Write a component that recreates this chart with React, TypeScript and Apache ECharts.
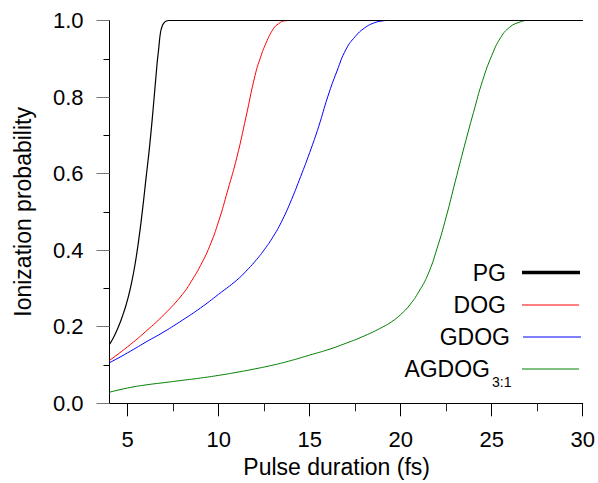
import React, { useEffect, useRef } from "react";
import * as echarts from "echarts";

const SERIES_NAMES = ["PG", "DOG", "GDOG", "AGDOG"];
const SERIES_SUB = ["", "", "", "3:1"];
const SERIES_COLORS = ["#000000", "#ff0000", "#0000ff", "#008000"];

const PG_X = [4.0, 4.2, 4.4, 4.6, 4.8, 5.0, 5.2, 5.4, 5.6, 5.8, 6.0, 6.2, 6.4, 6.6, 6.7, 6.8, 6.9, 7.0, 7.1, 7.25, 30];
const PG_Y = [0.154, 0.17, 0.19, 0.213, 0.24, 0.272, 0.312, 0.362, 0.425, 0.5, 0.585, 0.67, 0.77, 0.88, 0.925, 0.968, 0.986, 0.994, 0.998, 1.0, 1.0];

const DOG_X = [4, 5, 6, 7, 8, 8.5, 9, 9.5, 10, 10.5, 11, 11.5, 12, 12.3, 12.6, 13.0, 13.3, 13.6, 14, 30];
const DOG_Y = [0.112, 0.148, 0.188, 0.232, 0.284, 0.319, 0.36, 0.41, 0.476, 0.557, 0.643, 0.748, 0.857, 0.904, 0.941, 0.978, 0.992, 0.999, 1.0, 1.0];

const GDOG_X = [4, 5, 6, 7, 8, 9, 10, 11, 11.5, 12, 12.5, 13, 13.5, 14, 14.5, 15, 15.5, 16, 16.5, 17, 17.5, 18, 18.5, 19, 19.3, 30];
const GDOG_Y = [0.106, 0.132, 0.16, 0.187, 0.217, 0.249, 0.285, 0.322, 0.345, 0.371, 0.401, 0.436, 0.479, 0.532, 0.592, 0.655, 0.724, 0.802, 0.868, 0.925, 0.958, 0.98, 0.993, 0.999, 1.0, 1.0];

const AG_X = [4, 5, 6, 7, 8, 9, 10, 11, 12, 13, 14, 15, 16, 17, 18, 19, 19.5, 20, 20.5, 21, 21.5, 22, 22.5, 23, 23.5, 24, 24.5, 25, 25.5, 26, 26.5, 27, 30];
const AG_Y = [0.029, 0.04, 0.048, 0.054, 0.06, 0.066, 0.073, 0.081, 0.09, 0.1, 0.112, 0.126, 0.14, 0.157, 0.176, 0.199, 0.213, 0.232, 0.257, 0.292, 0.337, 0.405, 0.487, 0.58, 0.672, 0.76, 0.843, 0.908, 0.956, 0.983, 0.995, 1.0, 1.0];

const X_MAJOR_TICKS = [5, 10, 15, 20, 25, 30];
const X_MINOR_TICKS = [7.5, 12.5, 17.5, 22.5, 27.5];

const ALL_X = [PG_X, DOG_X, GDOG_X, AG_X];
const ALL_Y = [PG_Y, DOG_Y, GDOG_Y, AG_Y];

const FONT = "'Liberation Sans', Arial, Helvetica, sans-serif";

export default function App() {
  const ref = useRef<HTMLDivElement>(null);

  useEffect(() => {
    if (!ref.current) return;
    const chart = echarts.init(ref.current, undefined, { renderer: "svg" });

    const series = SERIES_NAMES.map((name, i) => ({
      name,
      type: "line",
      xAxisIndex: 0,
      yAxisIndex: 0,
      data: ALL_X[i].map((x, j) => [x, ALL_Y[i][j]]),
      showSymbol: false,
      symbol: "none",
      smooth: 0.5,
      clip: false,
      lineStyle: { color: SERIES_COLORS[i], width: i === 0 ? 1.2 : 1 },
      itemStyle: { color: SERIES_COLORS[i] },
      z: 10 - i,
    }));

    // legend drawn as graphic
    const legendRightText = [506, 506, 510, 490];
    const legendCenterY = [273, 305, 337, 368.5];
    const legendLineY = [272.5, 305, 337, 369];
    const legendLineX0 = [522, 522, 523, 522];
    const legendLineX1 = [580, 579, 581, 579];
    const graphic: any[] = [];
    SERIES_NAMES.forEach((name, i) => {
      graphic.push({
        type: "text",
        x: legendRightText[i],
        y: legendCenterY[i],
        style: {
          text: name,
          fill: "#000",
          font: `23px ${FONT}`,
          textAlign: "right",
          textVerticalAlign: "middle",
        },
      });
      if (SERIES_SUB[i]) {
        graphic.push({
          type: "text",
          x: legendRightText[i] + 2,
          y: legendCenterY[i] + 13,
          style: {
            text: SERIES_SUB[i],
            fill: "#000",
            font: `14px ${FONT}`,
            textAlign: "left",
            textVerticalAlign: "middle",
          },
        });
      }
      graphic.push({
        type: "line",
        shape: { x1: legendLineX0[i], y1: legendLineY[i], x2: legendLineX1[i], y2: legendLineY[i] },
        style: { stroke: SERIES_COLORS[i], lineWidth: i === 0 ? 3.5 : 1 },
      });
    });

    chart.setOption({
      animation: false,
      backgroundColor: "#ffffff",
      textStyle: { fontFamily: FONT },
      grid: {
        left: 109.5,
        right: 15.3,
        top: 20.5,
        bottom: 79.7,
        containLabel: false,
        outerBoundsMode: "none",
      },
      xAxis: [
        {
          type: "value",
          min: 4,
          max: 30,
          position: "bottom",
          name: "Pulse duration (fs)",
          nameLocation: "middle",
          nameGap: 45,
          nameTextStyle: { fontSize: 23, color: "#000", fontFamily: FONT, padding: [0, 19, 0, 0] },
          axisLine: { show: true, onZero: false, lineStyle: { color: "#000", width: 1 } },
          axisTick: {
            show: true,
            inside: false,
            length: 13,
            customValues: X_MAJOR_TICKS,
            lineStyle: { color: "#000", width: 1 },
          },
          axisLabel: {
            show: true,
            customValues: X_MAJOR_TICKS,
            fontSize: 22,
            color: "#000",
            margin: 25,
            fontFamily: FONT,
          },
          splitLine: { show: false },
        },
        {
          type: "value",
          min: 4,
          max: 30,
          position: "bottom",
          axisLine: { show: false, onZero: false },
          axisTick: {
            show: true,
            inside: false,
            length: 8,
            customValues: X_MINOR_TICKS,
            lineStyle: { color: "#222", width: 1 },
          },
          axisLabel: { show: false },
          splitLine: { show: false },
        },
      ],
      yAxis: {
        type: "value",
        min: 0,
        max: 1,
        interval: 0.2,
        name: "Ionization probability",
        nameLocation: "middle",
        nameGap: 75,
        nameTextStyle: { fontSize: 23, color: "#000", fontFamily: FONT },
        axisLine: { show: true, onZero: false, lineStyle: { color: "#000", width: 1 } },
        axisTick: { show: true, inside: false, length: 13, lineStyle: { color: "#777", width: 1 } },
        minorTick: { show: true, splitNumber: 2, length: 6, lineStyle: { color: "#000", width: 1 } },
        axisLabel: {
          fontSize: 22,
          color: "#000",
          margin: 26,
          fontFamily: FONT,
          formatter: (v: number) => v.toFixed(1),
        },
        splitLine: { show: false },
        minorSplitLine: { show: false },
      },
      series,
      graphic,
    });

    return () => chart.dispose();
  }, []);

  return (
    <div
      ref={ref}
      style={{ position: "fixed", left: 0, top: 0, width: 598, height: 483, background: "#fff" }}
    />
  );
}
